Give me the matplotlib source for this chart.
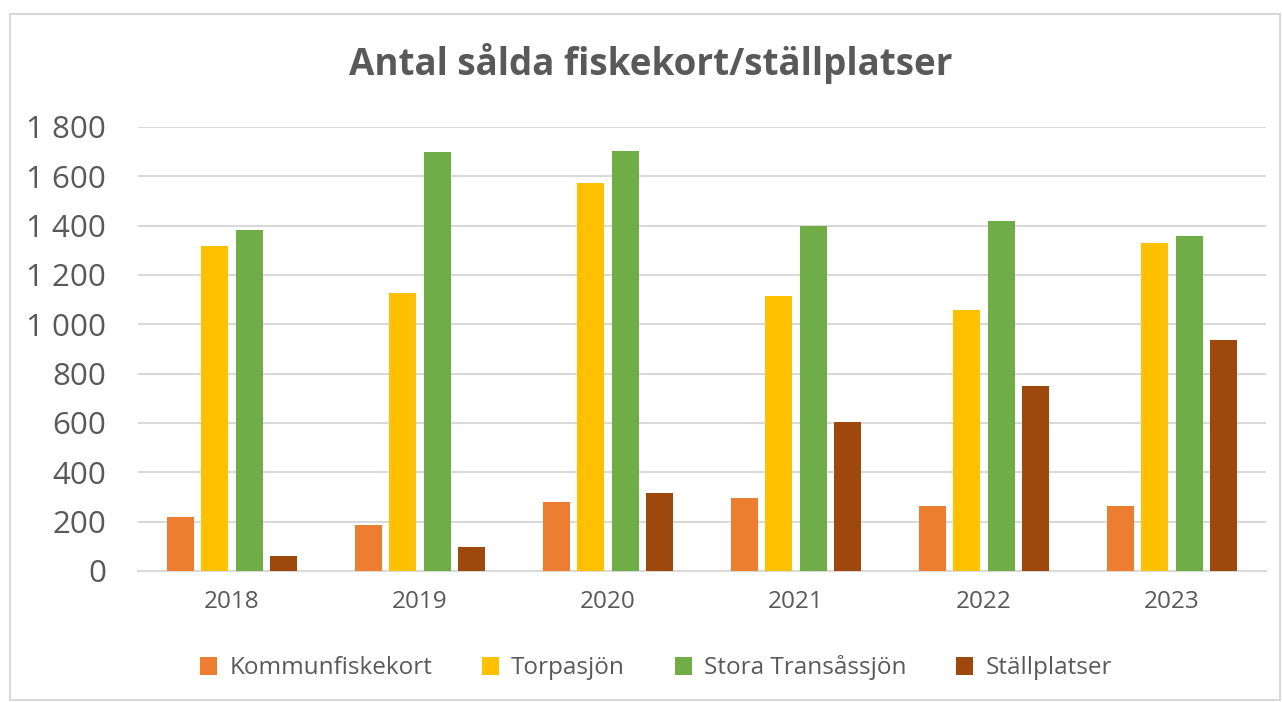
import matplotlib
matplotlib.use("Agg")
import matplotlib.pyplot as plt
import numpy as np
from matplotlib.patches import Rectangle
from matplotlib.ticker import FuncFormatter

years = ["2018", "2019", "2020", "2021", "2022", "2023"]
series_names = ["Kommunfiskekort", "Torpasjön", "Stora Transåssjön", "Ställplatser"]
kommunfiskekort = [220, 186, 280, 296, 263, 263]
torpasjon = [1317, 1127, 1573, 1115, 1058, 1330]
stora_transassjon = [1382, 1698, 1702, 1398, 1419, 1358]
stallplatser = [61, 97, 316, 604, 750, 936]
colors = ["#ED7D31", "#FFC000", "#70AD47", "#9E480E"]

plt.rcParams["font.family"] = ["Open Sans", "DejaVu Sans"]
TXT = "#595959"

fig = plt.figure(figsize=(12.82, 7.02), dpi=100)
fig.patches.append(Rectangle((10 / 1282, 2 / 702), 1270 / 1282, 686 / 702,
                             transform=fig.transFigure, fill=False,
                             edgecolor="#D9D9D9", lw=1.5))
ax = fig.add_axes([138 / 1282, 1 - 571 / 702, 1128 / 1282, 444 / 702])

x = np.arange(len(years))
w = 0.1436
step = 0.181
data = [kommunfiskekort, torpasjon, stora_transassjon, stallplatser]
for i, (vals, name, c) in enumerate(zip(data, series_names, colors)):
    ax.bar(x + (i - 1.5) * step, vals, width=w, color=c, label=name, zorder=3)

ax.set_xlim(-0.5, len(years) - 0.5)
ax.set_ylim(0, 1800)
ax.set_yticks(np.arange(0, 1801, 200))
ax.yaxis.set_major_formatter(FuncFormatter(lambda v, p: f"{int(v):,}".replace(",", " ")))
ax.set_xticks(x)
ax.set_xticklabels(years)
ax.grid(axis="y", color="#D9D9D9", lw=1.5, zorder=0)
for s in ["top", "right", "left"]:
    ax.spines[s].set_visible(False)
ax.spines["bottom"].set_color("#D9D9D9")
ax.spines["bottom"].set_linewidth(1.5)
ax.tick_params(axis="y", length=0, labelsize=22.5, labelcolor=TXT, pad=23)
ax.tick_params(axis="x", length=0, labelsize=17.5, labelcolor=TXT, pad=14)

fig.text(651 / 1282, 1 - 63 / 702, "Antal sålda fiskekort/ställplatser",
         ha="center", va="center", fontsize=26.5, fontweight="bold", color=TXT)

fig.legend(loc="center", bbox_to_anchor=(656 / 1282, 1 - 668 / 702), ncol=4,
           frameon=False, fontsize=17.5, labelcolor=TXT, handlelength=0.7,
           handleheight=0.7, handletextpad=0.5, columnspacing=2.05)

fig.savefig("out.png", dpi=100)
